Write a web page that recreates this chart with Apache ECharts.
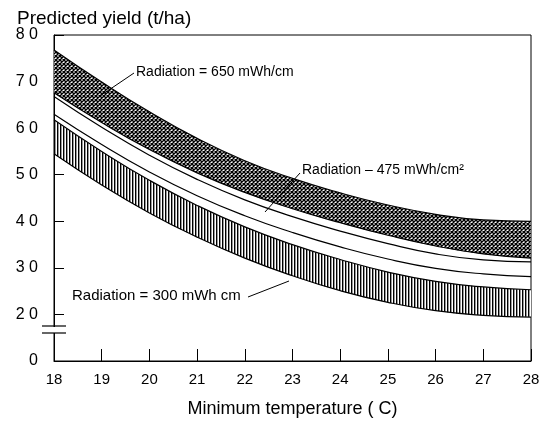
<!DOCTYPE html>
<html>
<head>
<meta charset="utf-8">
<script src="https://cdn.jsdelivr.net/npm/echarts@6/dist/echarts.min.js"></script>
<style>
  html, body { margin: 0; padding: 0; background: #fff; }
  #chart { width: 545px; height: 423px; }
</style>
</head>
<body>
<div id="chart"></div>
<script>
// minimum temperature (C)
var temps = ['18', '19', '20', '21', '22', '23', '24', '25', '26', '27', '28'];

// Radiation = 650 band, upper / lower edge (t/ha)
var top650 = [76.8, 69.9, 63.5, 57.8, 53.0, 49.2, 46.1, 43.5, 41.5, 40.3, 40.0];
var bot650 = [67.6, 61.2, 55.4, 50.4, 46.2, 42.7, 39.7, 37.0, 34.7, 33.0, 32.1];

// Radiation = 475 band
var top475 = [66.8, 60.2, 54.2, 49.0, 44.6, 41.0, 37.9, 35.2, 33.0, 31.7, 31.3];
var bot475 = [63.0, 56.5, 50.6, 45.5, 41.2, 37.6, 34.5, 31.9, 29.9, 28.7, 28.1];

// Radiation = 300 band
var top300 = [61.8, 55.0, 48.8, 43.4, 38.8, 35.0, 31.8, 29.1, 27.1, 25.9, 25.3];
var bot300 = [54.5, 47.8, 41.8, 36.6, 32.1, 28.3, 25.1, 22.6, 20.8, 19.8, 19.4];

// y axis is broken: bottom tick stands for 0
var yTickValues = [10, 20, 30, 40, 50, 60, 70, 80];
var yTickLabels = ['0', '2 0', '3 0', '4 0', '5 0', '6 0', '7 0', '8 0'];

var FONT = 'Liberation Sans, Arial, sans-serif';

// fill patterns
function crossHatch() {
  var c = document.createElement('canvas');
  c.width = 4; c.height = 4;
  var ctx = c.getContext('2d');
  ctx.fillStyle = '#fff';
  ctx.fillRect(0, 0, 4, 4);
  ctx.strokeStyle = '#000';
  ctx.lineWidth = 1.4;
  ctx.lineCap = 'square';
  ctx.beginPath();
  ctx.moveTo(0, 0); ctx.lineTo(4, 4);
  ctx.moveTo(4, 0); ctx.lineTo(0, 4);
  ctx.stroke();
  return c;
}
function vertHatch() {
  var c = document.createElement('canvas');
  c.width = 3; c.height = 2;
  var ctx = c.getContext('2d');
  ctx.fillStyle = '#fff';
  ctx.fillRect(0, 0, 3, 2);
  ctx.fillStyle = '#000';
  ctx.fillRect(0, 0, 1, 2);
  ctx.fillStyle = '#999';
  ctx.fillRect(1, 0, 1, 2);
  return c;
}

// one band = lower edge + stacked thickness
function band(name, lower, upper, fill) {
  var low = {
    name: name + ' low', type: 'line', stack: name, smooth: true, symbol: 'none',
    lineStyle: { color: '#000', width: 1.2 },
    data: lower
  };
  var high = {
    name: name, type: 'line', stack: name, smooth: true, symbol: 'none',
    lineStyle: { color: '#000', width: 1.2 },
    data: upper.map(function (u, i) { return +(u - lower[i]).toFixed(2); })
  };
  if (fill) {
    high.areaStyle = { color: { image: fill, repeat: 'repeat' }, opacity: 1 };
  }
  return [low, high];
}

var chart = echarts.init(document.getElementById('chart'));

var option = {
  animation: false,
  backgroundColor: '#fff',
  title: {
    text: 'Predicted yield (t/ha)',
    left: 12, top: 4,
    textStyle: { fontFamily: FONT, fontSize: 19, fontWeight: 'normal', color: '#000' }
  },
  grid: {
    left: 54, right: 14, top: 35, bottom: 61,
    show: true, borderColor: '#000', borderWidth: 1
  },
  xAxis: {
    type: 'category', data: temps, boundaryGap: false,
    name: 'Minimum temperature ( C)',
    nameLocation: 'middle', nameGap: 39,
    nameTextStyle: { fontFamily: FONT, fontSize: 18, color: '#000' },
    axisLine: { lineStyle: { color: '#000', width: 1 } },
    axisTick: { inside: true, length: 12, interval: 0, lineStyle: { color: '#000' } },
    axisLabel: { fontFamily: FONT, fontSize: 15, color: '#000', margin: 11, interval: 0 },
    splitLine: { show: false }
  },
  yAxis: {
    type: 'value', min: 10, max: 80, interval: 10,
    axisLine: { show: true, lineStyle: { color: '#000', width: 1 } },
    axisTick: { show: true, inside: true, length: 10, lineStyle: { color: '#000' } },
    axisLabel: {
      fontFamily: FONT, fontSize: 16, color: '#000', margin: 16,
      formatter: function (v) {
        var k = yTickValues.indexOf(v);
        return k < 0 ? '' : yTickLabels[k];
      }
    },
    splitLine: { show: false }
  },
  series: []
    .concat(band('650', bot650, top650, crossHatch()))
    .concat(band('475', bot475, top475, null))
    .concat(band('300', bot300, top300, vertHatch())),
  graphic: [
    // axis break marks
    { type: 'rect', z: 100, shape: { x: 50, y: 327, width: 9, height: 6 }, style: { fill: '#fff' } },
    { type: 'line', z: 101, shape: { x1: 42, y1: 326, x2: 66, y2: 326 }, style: { stroke: '#000', lineWidth: 1.2 } },
    { type: 'line', z: 101, shape: { x1: 42, y1: 333, x2: 66, y2: 333 }, style: { stroke: '#000', lineWidth: 1.2 } },
    // labels with leader lines
    { type: 'text', z: 100, x: 136, y: 72,
      style: { text: 'Radiation = 650 mWh/cm', font: '14px ' + FONT, fill: '#000', verticalAlign: 'middle' } },
    { type: 'line', z: 100, shape: { x1: 134, y1: 73, x2: 100, y2: 96 }, style: { stroke: '#000', lineWidth: 1 } },
    { type: 'text', z: 100, x: 302, y: 170,
      style: { text: 'Radiation \u2013 475 mWh/cm\u00b2', font: '14px ' + FONT, fill: '#000', verticalAlign: 'middle' } },
    { type: 'line', z: 100, shape: { x1: 300, y1: 173, x2: 265, y2: 212 }, style: { stroke: '#000', lineWidth: 1 } },
    { type: 'text', z: 100, x: 72, y: 296,
      style: { text: 'Radiation = 300 mWh cm', font: '15px ' + FONT, fill: '#000', verticalAlign: 'middle' } },
    { type: 'line', z: 100, shape: { x1: 248, y1: 297, x2: 289, y2: 281 }, style: { stroke: '#000', lineWidth: 1 } }
  ]
};

chart.setOption(option);
</script>
</body>
</html>
